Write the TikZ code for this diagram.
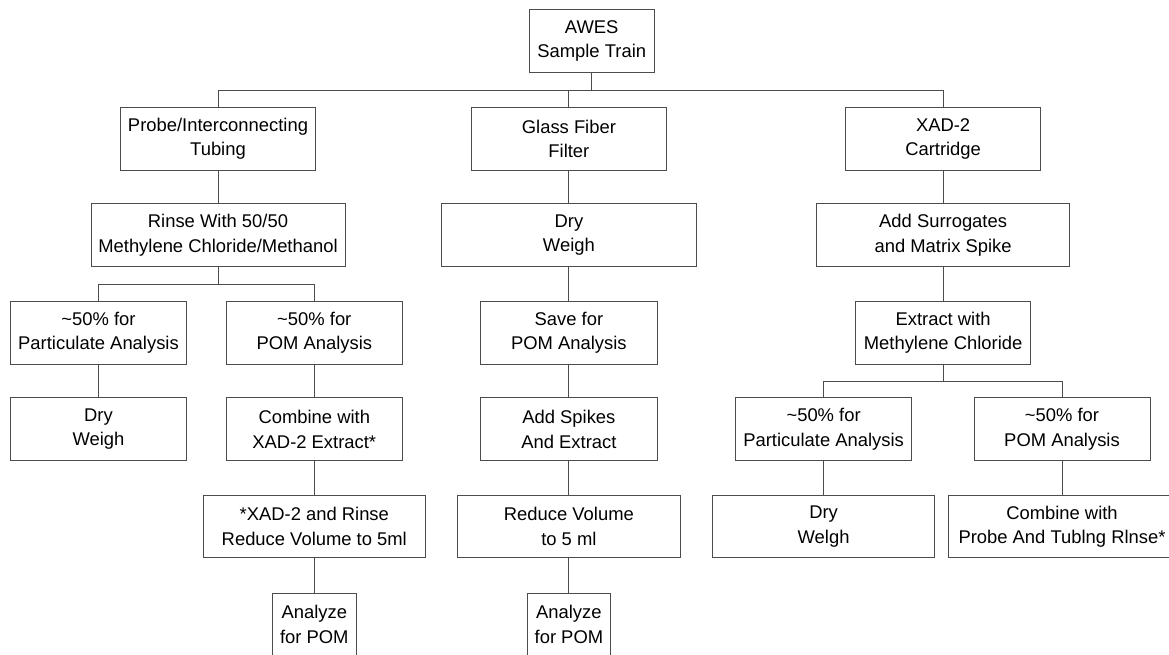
\documentclass[tikz,border=0pt]{standalone}
\usepackage{fontspec}
\setmainfont{Liberation Sans}
\usepackage{tikz}
\usetikzlibrary{positioning, calc}
\tikzset{
  stage/.style={
    rectangle, draw=black!70, line width=1pt, fill=white,
    minimum height=62.7pt, inner sep=0pt, align=center,
    font=\fontsize{18.4}{24.3}\selectfont
  },
  link/.style={
    draw=black!70, line width=1pt
  }
}

\begin{document}
\begin{tikzpicture}[x=1pt, y=-1pt]

    \clip (0,0) rectangle (1169,654);

    % Train
    \node[stage, minimum width=125.4pt] (awes) at (591.7,41.3) {AWES\\Sample Train};

    % Fractions
    \node[stage, minimum width=195.5pt] (probe) at (218,138.8) {Probe/Interconnecting\\Tubing};
    \node[stage, minimum width=195.8pt] (filter) at (568.9,138.8) {Glass Fiber\\Filter};
    \node[stage, minimum width=195pt] (xad) at (943.1,138.8) {XAD-2\\Cartridge};

    % Probe
    \node[stage, minimum width=254pt] (rinse) at (218,235.3) {Rinse With 50/50\\Methylene Chloride/Methanol};
    \node[stage, minimum width=176.5pt] (probepart) at (98.5,332.7) {\textasciitilde50\% for\\Particulate Analysis};
    \node[stage, minimum width=176.5pt] (probepom) at (314.3,332.7) {\textasciitilde50\% for\\POM Analysis};
    \node[stage, minimum width=176.5pt] (probedry) at (98.5,429.3) {Dry\\Weigh};
    \node[stage, minimum width=176.5pt] (probecomb) at (314.3,429.3) {Combine with\\XAD-2 Extract*};
    \node[stage, minimum width=222pt] (probered) at (314.3,526.5) {*XAD-2 and Rinse\\Reduce Volume to 5ml};
    \node[stage, minimum width=83.4pt] (probeana) at (314.3,624.5) {Analyze\\for POM};

    % Filtre
    \node[stage, minimum width=254.4pt] (filterdry) at (568.9,235.3) {Dry\\Weigh};
    \node[stage, minimum width=176.3pt] (filtersave) at (568.9,332.7) {Save for\\POM Analysis};
    \node[stage, minimum width=176.3pt] (filterspike) at (568.9,429.3) {Add Spikes\\And Extract};
    \node[stage, minimum width=222.6pt] (filterred) at (568.9,526.5) {Reduce Volume\\to 5 ml};
    \node[stage, minimum width=83pt] (filterana) at (568.9,624.5) {Analyze\\for POM};

    % XAD-2
    \node[stage, minimum width=253.6pt] (xadsurr) at (943.1,235.3) {Add Surrogates\\and Matrix Spike};
    \node[stage, minimum width=175.4pt] (xadext) at (943.1,332.7) {Extract with\\Methylene Chloride};
    \node[stage, minimum width=176.2pt] (xadpart) at (823.6,429.3) {\textasciitilde50\% for\\Particulate Analysis};
    \node[stage, minimum width=176pt] (xadpom) at (1062,429.3) {\textasciitilde50\% for\\POM Analysis};
    \node[stage, minimum width=222.4pt] (xaddry) at (823.6,526.5) {Dry\\Welgh};
    \node[stage, minimum width=228pt] (xadcomb) at (1062,526.5) {Combine with\\Probe And Tublng Rlnse*};

    % Liaisons
    \draw[link] (awes.south) -- ++(0,17.3) coordinate (top);
    \draw[link] (top) -| (probe.north);
    \draw[link] (top) -| (filter.north);
    \draw[link] (top) -| (xad.north);

    \draw[link] (probe) -- (rinse);
    \draw[link] (rinse.south) -- ++(0,17.3) coordinate (rinsesplit);
    \draw[link] (rinsesplit) -| (probepart.north);
    \draw[link] (rinsesplit) -| (probepom.north);
    \draw[link] (probepart) -- (probedry);
    \draw[link] (probepom) -- (probecomb);
    \draw[link] (probecomb) -- (probered);
    \draw[link] (probered) -- (probeana);

    \draw[link] (filter) -- (filterdry);
    \draw[link] (filterdry) -- (filtersave);
    \draw[link] (filtersave) -- (filterspike);
    \draw[link] (filterspike) -- (filterred);
    \draw[link] (filterred) -- (filterana);

    \draw[link] (xad) -- (xadsurr);
    \draw[link] (xadsurr) -- (xadext);
    \draw[link] (xadext.south) -- ++(0,17) coordinate (xadsplit);
    \draw[link] (xadsplit) -| (xadpart.north);
    \draw[link] (xadsplit) -| (xadpom.north);
    \draw[link] (xadpart) -- (xaddry);
    \draw[link] (xadpom) -- (xadcomb);

\end{tikzpicture}
\end{document}
